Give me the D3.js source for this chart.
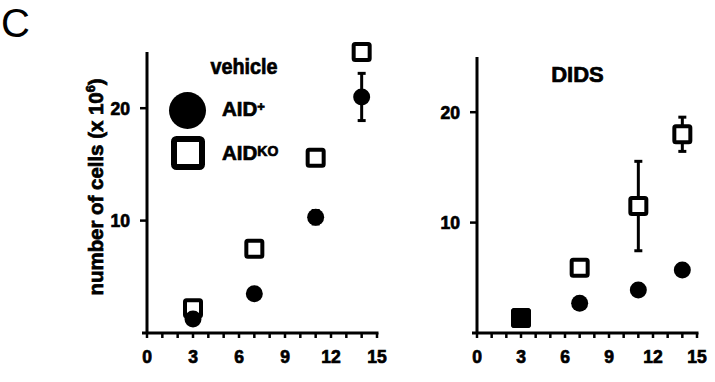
<!DOCTYPE html>
<html><head><meta charset="utf-8">
<script src="https://cdn.jsdelivr.net/npm/d3@7"></script>
<style>body{margin:0;background:#fff}svg{display:block}
.b{font-family:'Liberation Sans',Arial,sans-serif;font-weight:bold;stroke:#000;stroke-width:0.7px;fill:#000}</style>
</head><body>
<svg id="c" width="715" height="382"></svg>
<script>
const days = [3, 7, 11, 14];
const xTicks = [0, 3, 6, 9, 12, 15];
const yTicks = [10, 20];
// vehicle panel
const vehAIDplus = [1.25, 3.5, 10.3, 21.0];
const vehAIDplusErr = [0, 0, 0.6, 2.1];
const vehAIDko = [2.2, 7.5, 15.6, 25.0];
const vehAIDkoErr = [0, 0, 0, 0];
// DIDS panel
const didsAIDplus = [1.35, 2.7, 3.9, 5.7];
const didsAIDplusErr = [0, 0, 0, 0.4];
const didsAIDko = [1.35, 5.9, 11.5, 18.0];
const didsAIDkoErr = [0, 0, 4.05, 1.55];

const svg = d3.select("#c");

svg.append("text").attr("x", 1).attr("y", 37).attr("font-family", "'Liberation Sans', Arial, sans-serif")
  .attr("font-size", 40).attr("fill", "#000").text("C");

function panel(o) {
  const g = svg.append("g");
  const x = d3.scaleLinear().domain([0, 15]).range([o.x0, o.x1]);
  const y = d3.scaleLinear().domain([0, 25]).range([o.yb, o.yt]);
  // y axis
  g.append("line").attr("x1", o.x0).attr("x2", o.x0).attr("y1", y(0)).attr("y2", y(25))
    .attr("stroke", "#000").attr("stroke-width", 3);
  yTicks.forEach(t => {
    g.append("line").attr("x1", o.x0 - 7).attr("x2", o.x0).attr("y1", y(t)).attr("y2", y(t))
      .attr("stroke", "#000").attr("stroke-width", 2.5);
    g.append("text").attr("class", "b").attr("x", o.x0 - 17).attr("y", y(t) + 6.5).attr("text-anchor", "end")
      .attr("font-size", 17.5).text(t);
  });
  // x axis
  g.append("line").attr("x1", o.x0 - 5).attr("x2", x(15) + 1.5).attr("y1", y(0)).attr("y2", y(0))
    .attr("stroke", "#000").attr("stroke-width", 3);
  d3.range(0, 16).forEach(t => {
    g.append("line").attr("x1", x(t)).attr("x2", x(t)).attr("y1", y(0)).attr("y2", y(0) + 5)
      .attr("stroke", "#000").attr("stroke-width", 2.5);
  });
  xTicks.forEach(t => {
    g.append("text").attr("class", "b").attr("x", x(t)).attr("y", y(0) + 30).attr("text-anchor", "middle")
      .attr("font-size", 17.5).text(t);
  });
  // error bars
  function err(vals, errs) {
    days.forEach((d, i) => {
      if (!errs[i]) return;
      const cx = x(d), lo = y(vals[i] - errs[i]), hi = y(vals[i] + errs[i]);
      g.append("line").attr("x1", cx).attr("x2", cx).attr("y1", lo).attr("y2", hi)
        .attr("stroke", "#000").attr("stroke-width", 3);
      [lo, hi].forEach(yy => g.append("line").attr("x1", cx - 4).attr("x2", cx + 4)
        .attr("y1", yy).attr("y2", yy).attr("stroke", "#000").attr("stroke-width", 3));
    });
  }
  err(o.ko, o.koErr);
  err(o.plus, o.plusErr);
  // squares
  days.forEach((d, i) => {
    g.append("rect").attr("x", x(d) - 8).attr("y", y(o.ko[i]) - 8).attr("width", 16).attr("height", 16)
      .attr("rx", 1.5).attr("fill", "#fff").attr("stroke", "#000").attr("stroke-width", 4);
  });
  // circles
  days.forEach((d, i) => {
    g.append("circle").attr("cx", x(d)).attr("cy", y(o.plus[i])).attr("r", 8.5).attr("fill", "#000");
  });
  if (o.fillFirst) {
    g.append("rect").attr("x", x(days[0]) - 8).attr("y", y(o.ko[0]) - 8).attr("width", 16).attr("height", 16)
      .attr("rx", 1.5).attr("fill", "#000").attr("stroke", "#000").attr("stroke-width", 4);
  }
  return {g, x, y};
}

const p1 = panel({x0: 147, x1: 377, yb: 333, yt: 52, plus: vehAIDplus, plusErr: vehAIDplusErr, ko: vehAIDko, koErr: vehAIDkoErr});
const p2 = panel({x0: 477, x1: 697, yb: 333, yt: 57, plus: didsAIDplus, plusErr: didsAIDplusErr, ko: didsAIDko, koErr: didsAIDkoErr, fillFirst: true});

// titles
svg.append("text").attr("class", "b").attr("x", 244).attr("y", 74).attr("text-anchor", "middle")
  .attr("font-size", 22).attr("textLength", 67)
  .attr("lengthAdjust", "spacingAndGlyphs").text("vehicle");
svg.append("text").attr("class", "b").attr("x", 577.5).attr("y", 82).attr("text-anchor", "middle")
  .attr("font-size", 22).text("DIDS");

// legend
svg.append("circle").attr("cx", 187.5).attr("cy", 110.5).attr("r", 18.5).attr("fill", "#000");
svg.append("rect").attr("x", 174).attr("y", 139).attr("width", 28).attr("height", 28).attr("rx", 2.5)
  .attr("fill", "#fff").attr("stroke", "#000").attr("stroke-width", 6);
const t1 = svg.append("text").attr("class", "b").attr("x", 222).attr("y", 116).attr("font-size", 20.5);
t1.append("tspan").text("AID");
t1.append("tspan").attr("font-size", 13).attr("dy", -5).text("+");
const t2 = svg.append("text").attr("class", "b").attr("x", 222).attr("y", 160).attr("font-size", 20.5);
t2.append("tspan").text("AID");
t2.append("tspan").attr("font-size", 14).attr("dy", -4).text("KO");

// y label
const yl = svg.append("text").attr("class", "b").attr("transform", "translate(103,187) rotate(-90)")
  .attr("text-anchor", "middle").attr("font-size", 19.5)
  .attr("textLength", 217).attr("lengthAdjust", "spacingAndGlyphs");
yl.append("tspan").text("number of cells (x 10");
yl.append("tspan").attr("font-size", 12).attr("dy", -8).text("6");
yl.append("tspan").attr("dy", 8).text(")");
</script>
</body></html>
